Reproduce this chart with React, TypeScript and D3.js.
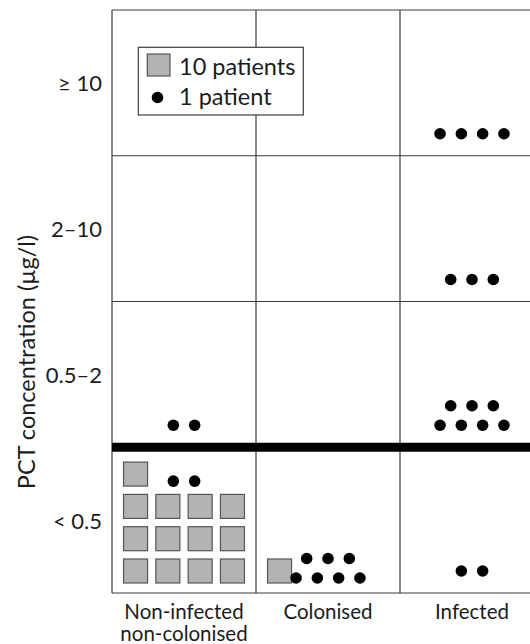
import React from "react";
import * as d3 from "d3";

// Patients by infection status and PCT concentration band
const categories = ["Non-infected non-colonised", "Colonised", "Infected"];
const categoryLabels = [["Non-infected", "non-colonised"], ["Colonised"], ["Infected"]];
const pctBands = ["< 0.5", "0.5–2", "2–10", "≥ 10"];
const nonInfected = [132, 2, 0, 0];
const colonised = [17, 0, 0, 0];
const infected = [2, 7, 3, 4];
const counts = [nonInfected, colonised, infected];
const PATIENTS_PER_SQUARE = 10;
const cutoffBand = "< 0.5";

const W = 530;
const H = 644;
const margin = { left: 112, top: 10, right: 544, bottom: 593 };

const FONT = "Lato, 'Open Sans', sans-serif";
const INK = "#1c1c1c";
const GRID = "#3d3d3d";
const SQ_FILL = "#b3b3b3";
const SQ_STROKE = "#555";

const SQ = 24;
const SQ_PITCH = 32.3;
const SQ_PER_ROW = 4;
const DOT_R = 5.8;
const DOT_DX = 21.3;
const DOT_DY = 19.5;
const DOT_PER_ROW = 4;

export default function App() {
  const x = d3.scaleBand<string>().domain(categories).range([margin.left, margin.right]);
  const y = d3.scaleBand<string>().domain(pctBands).range([margin.bottom, margin.top]);
  const bw = x.bandwidth();
  const bh = y.bandwidth();

  const squares: { x: number; y: number; key: string }[] = [];
  const dots: { cx: number; cy: number; key: string }[] = [];

  categories.forEach((cat, ci) => {
    const cx = (x(cat) as number) + bw / 2;
    pctBands.forEach((band, bi) => {
      const n = counts[ci][bi];
      const rowBottom = (y(band) as number) + bh;
      const nSq = Math.floor(n / PATIENTS_PER_SQUARE);
      const nDot = n % PATIENTS_PER_SQUARE;
      const gridLeft = cx - ((SQ_PER_ROW - 1) * SQ_PITCH + SQ) / 2;
      const slotBottom = rowBottom - 10;
      for (let s = 0; s < nSq; s++) {
        const r = Math.floor(s / SQ_PER_ROW);
        const c = s % SQ_PER_ROW;
        squares.push({
          x: gridLeft + c * SQ_PITCH,
          y: slotBottom - r * SQ_PITCH - SQ,
          key: `${ci}-${bi}-s${s}`,
        });
      }
      let baseY: number;
      if (nSq > 0) {
        const lastRow = Math.floor((nSq - 1) / SQ_PER_ROW);
        baseY = slotBottom - lastRow * SQ_PITCH - 5;
      } else {
        baseY = rowBottom - 22;
      }
      let remaining = nDot;
      let row = 0;
      while (remaining > 0) {
        const k = Math.min(DOT_PER_ROW, remaining);
        for (let j = 0; j < k; j++) {
          dots.push({
            cx: cx + (j - (k - 1) / 2) * DOT_DX,
            cy: baseY - row * DOT_DY,
            key: `${ci}-${bi}-d${row}-${j}`,
          });
        }
        remaining -= k;
        row++;
      }
    });
  });

  const vLines = [...categories.map((c) => x(c) as number), margin.right];
  const hLines = [...pctBands.map((b) => y(b) as number), margin.bottom];
  const cutoffY = y(cutoffBand) as number;

  return (
    <svg
      width={W}
      height={H}
      style={{ position: "absolute", left: 0, top: 0, background: "#fff" }}
      fontFamily={FONT}
    >
      {/* grid */}
      {vLines.map((v, i) => (
        <line key={`v${i}`} x1={v} x2={v} y1={margin.top} y2={margin.bottom} stroke={GRID} strokeWidth={1.2} />
      ))}
      {hLines.map((h, i) => (
        <line key={`h${i}`} x1={margin.left} x2={margin.right} y1={h} y2={h} stroke={GRID} strokeWidth={1.2} />
      ))}
      {/* 0.5 µg/l cutoff */}
      <line x1={margin.left} x2={margin.right} y1={cutoffY} y2={cutoffY} stroke="#000" strokeWidth={9} />

      {squares.map((s) => (
        <rect key={s.key} x={s.x} y={s.y} width={SQ} height={SQ} fill={SQ_FILL} stroke={SQ_STROKE} strokeWidth={1.2} />
      ))}
      {dots.map((d) => (
        <circle key={d.key} cx={d.cx} cy={d.cy} r={DOT_R} fill="#000" />
      ))}

      {/* band labels */}
      {pctBands.map((b) => (
        <text
          key={b}
          x={margin.left - 10}
          y={(y(b) as number) + bh / 2}
          textAnchor="end"
          dominantBaseline="central"
          fontSize={22}
          fill={INK}
        >
          {b}
        </text>
      ))}

      {/* category labels, one text element per line */}
      {categories.map((c, i) =>
        categoryLabels[i].map((line, li) => (
          <text
            key={`${c}-${li}`}
            x={(x(c) as number) + bw / 2}
            y={619 + li * 22}
            textAnchor="middle"
            fontSize={20.5}
            fill={INK}
          >
            {line}
          </text>
        ))
      )}

      {/* axis title */}
      <text
        transform="translate(35,362) rotate(-90)"
        textAnchor="middle"
        fontSize={23.5}
        fill={INK}
      >
        PCT concentration (µg/l)
      </text>

      {/* legend */}
      <g>
        <rect x={138.3} y={47.3} width={165} height={67.7} fill="#fff" stroke={GRID} strokeWidth={1.2} />
        <rect x={147.3} y={54} width={22.7} height={22} fill={SQ_FILL} stroke={SQ_STROKE} strokeWidth={1.2} />
        <text x={179} y={74.5} fontSize={23.5} fill={INK}>
          10 patients
        </text>
        <circle cx={157.5} cy={97.5} r={DOT_R} fill="#000" />
        <text x={179} y={105} fontSize={23.5} fill={INK}>
          1 patient
        </text>
      </g>
    </svg>
  );
}
